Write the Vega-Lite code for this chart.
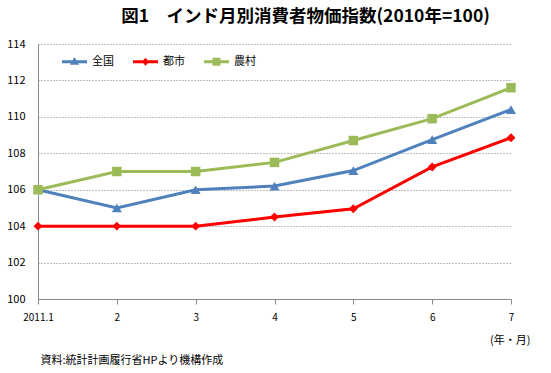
{
  "$schema": "https://vega.github.io/schema/vega-lite/v6.json",
  "width": 473,
  "height": 255,
  "autosize": "none",
  "padding": {"left": 38, "top": 44, "right": 40, "bottom": 74},
  "background": "white",
  "config": {
    "font": "Noto Sans CJK JP",
    "view": {"stroke": null}
  },
  "title": {
    "text": "図1　インド月別消費者物価指数(2010年=100)",
    "fontSize": 17.5,
    "fontWeight": "bold",
    "color": "#000000",
    "anchor": "middle",
    "dx": 31,
    "offset": 13
  },
  "data": {
    "values": [
      {"m": "2011.1", "s": "全国", "v": 106.0},
      {"m": "2", "s": "全国", "v": 105.0},
      {"m": "3", "s": "全国", "v": 106.0},
      {"m": "4", "s": "全国", "v": 106.2},
      {"m": "5", "s": "全国", "v": 107.05},
      {"m": "6", "s": "全国", "v": 108.75},
      {"m": "7", "s": "全国", "v": 110.4},
      {"m": "2011.1", "s": "都市", "v": 104.0},
      {"m": "2", "s": "都市", "v": 104.0},
      {"m": "3", "s": "都市", "v": 104.0},
      {"m": "4", "s": "都市", "v": 104.5},
      {"m": "5", "s": "都市", "v": 104.95},
      {"m": "6", "s": "都市", "v": 107.25},
      {"m": "7", "s": "都市", "v": 108.85},
      {"m": "2011.1", "s": "農村", "v": 106.0},
      {"m": "2", "s": "農村", "v": 107.0},
      {"m": "3", "s": "農村", "v": 107.0},
      {"m": "4", "s": "農村", "v": 107.5},
      {"m": "5", "s": "農村", "v": 108.7},
      {"m": "6", "s": "農村", "v": 109.9},
      {"m": "7", "s": "農村", "v": 111.6}
    ]
  },
  "encoding": {
    "x": {
      "field": "m",
      "type": "ordinal",
      "sort": ["2011.1", "2", "3", "4", "5", "6", "7"],
      "scale": {"type": "point", "padding": 0},
      "axis": {
        "title": "(年・月)",
        "titleX": 492,
        "titleY": 41,
        "titleAlign": "right",
        "titleBaseline": "middle",
        "titleFontSize": 11,
        "titleFontWeight": "normal",
        "titleColor": "#000000",
        "labelAngle": 0,
        "labelFontSize": 10,
        "labelColor": "#000000",
        "labelPadding": 8,
        "tickSize": 5,
        "tickColor": "#888888",
        "domainColor": "#888888",
        "grid": false
      }
    },
    "y": {
      "field": "v",
      "type": "quantitative",
      "scale": {"domain": [100, 114], "nice": false, "zero": false},
      "axis": {
        "values": [100, 102, 104, 106, 108, 110, 112, 114],
        "title": "資料:統計計画履行省HPより機構作成",
        "titleAngle": 0,
        "titleX": 2,
        "titleY": 316,
        "titleAlign": "left",
        "titleBaseline": "middle",
        "titleFontSize": 11,
        "titleFontWeight": "normal",
        "titleColor": "#000000",
        "labelFontSize": 11,
        "labelColor": "#000000",
        "labelPadding": 13,
        "ticks": false,
        "domainColor": "#888888",
        "gridColor": "#808080",
        "gridDash": [1, 2],
        "gridWidth": 1
      }
    },
    "color": {
      "field": "s",
      "type": "nominal",
      "sort": ["全国", "都市", "農村"],
      "scale": {"domain": ["全国", "都市", "農村"], "range": ["#4F81BD", "#FF0000", "#9BBB59"]},
      "legend": {
        "orient": "none",
        "legendX": 31,
        "legendY": 12,
        "direction": "horizontal",
        "title": null,
        "symbolOpacity": 1,
        "symbolSize": 100,
        "symbolStrokeWidth": 0,
        "labelOffset": 12,
        "columnPadding": 19,
        "labelFontSize": 11,
        "labelColor": "#000000",
        "padding": 0
      }
    }
  },
  "layer": [
    {
      "mark": {"type": "line", "strokeWidth": 3}
    },
    {
      "transform": [{"filter": "datum.s === '全国'"}],
      "mark": {"type": "point", "filled": true, "opacity": 1, "shape": "triangle-up", "size": 100}
    },
    {
      "transform": [{"filter": "datum.s === '都市'"}],
      "mark": {"type": "point", "filled": true, "opacity": 1, "shape": "diamond", "size": 80}
    },
    {
      "transform": [{"filter": "datum.s === '農村'"}],
      "mark": {"type": "point", "filled": true, "opacity": 1, "shape": "square", "size": 90}
    },
    {
      "mark": {"type": "point", "filled": true, "opacity": 0, "size": 100},
      "encoding": {
        "shape": {
          "field": "s",
          "type": "nominal",
          "scale": {
            "domain": ["全国", "都市", "農村"],
            "range": [
              "M-2.5,-0.3H2.5V0.3H-2.5Z M0,-0.95L0.9,0.6H-0.9Z",
              "M-2.5,-0.3H2.5V0.3H-2.5Z M0,-0.8L0.7,0L0,0.8L-0.7,0Z",
              "M-2.5,-0.3H2.5V0.3H-2.5Z M-0.8,-0.8H0.8V0.8H-0.8Z"
            ]
          },
          "legend": {
            "orient": "none",
            "legendX": 31,
            "legendY": 12,
            "direction": "horizontal",
            "title": null,
            "symbolOpacity": 1,
            "symbolSize": 100,
            "symbolStrokeWidth": 0,
            "labelOffset": 12,
            "columnPadding": 19,
            "labelFontSize": 11,
            "labelColor": "#000000",
            "padding": 0
          }
        }
      }
    }
  ]
}
